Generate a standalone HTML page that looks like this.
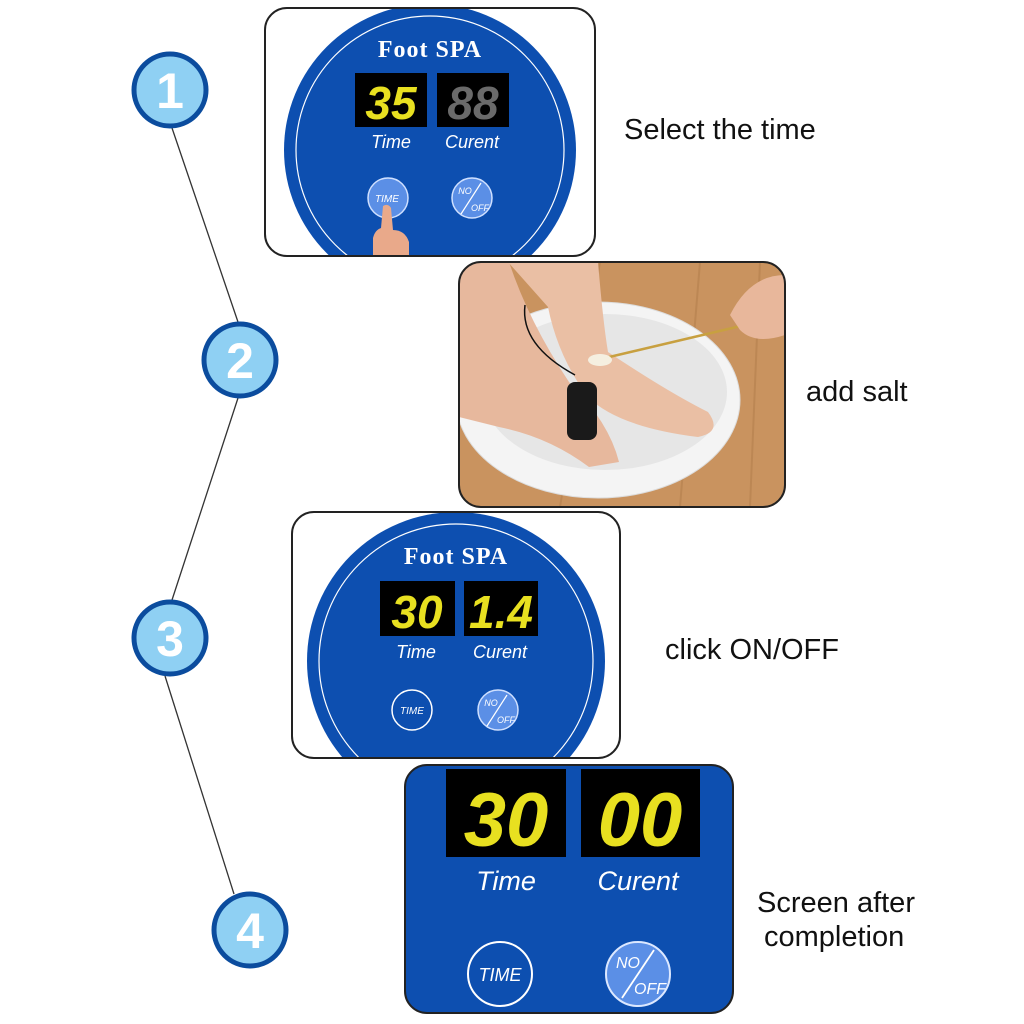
<!DOCTYPE html>
<html><head><meta charset="utf-8"><style>
html,body{margin:0;padding:0;background:#fff;}
svg{display:block;}
</style></head><body>
<svg width="1024" height="1024" viewBox="0 0 1024 1024" xmlns="http://www.w3.org/2000/svg" font-family="Liberation Sans, sans-serif">
<defs>
  <clipPath id="c1"><rect x="265" y="8" width="330" height="248" rx="22"/></clipPath>
  <clipPath id="c2"><rect x="459" y="262" width="326" height="245" rx="22"/></clipPath>
  <clipPath id="c3"><rect x="292" y="512" width="328" height="246" rx="22"/></clipPath>
  <clipPath id="c4"><rect x="405" y="765" width="328" height="248" rx="22"/></clipPath>
</defs>

<g stroke="#333" stroke-width="1.3" fill="none">
  <line x1="172" y1="128" x2="238" y2="322"/>
  <line x1="238" y1="398" x2="172" y2="600"/>
  <line x1="165" y1="676" x2="234" y2="894"/>
</g>

<g font-size="50" font-weight="bold" fill="#fff" text-anchor="middle">
  <circle cx="170" cy="90" r="36" fill="#8fd0f3" stroke="#0b4c9e" stroke-width="5"/>
  <text x="170" y="108">1</text>
  <circle cx="240" cy="360" r="36" fill="#8fd0f3" stroke="#0b4c9e" stroke-width="5"/>
  <text x="240" y="378">2</text>
  <circle cx="170" cy="638" r="36" fill="#8fd0f3" stroke="#0b4c9e" stroke-width="5"/>
  <text x="170" y="656">3</text>
  <circle cx="250" cy="930" r="36" fill="#8fd0f3" stroke="#0b4c9e" stroke-width="5"/>
  <text x="250" y="948">4</text>
</g>

<g clip-path="url(#c1)">
  <rect x="265" y="8" width="330" height="248" fill="#fff"/>
  <circle cx="430" cy="150" r="146" fill="#0d4fb0"/>
  <circle cx="430" cy="150" r="134" fill="none" stroke="#fff" stroke-width="1.2"/>
  <text x="430" y="57" font-family="Liberation Serif, serif" font-weight="bold" font-size="24" letter-spacing="1" fill="#fff" text-anchor="middle">Foot SPA</text>
  <rect x="355" y="73" width="72" height="54" fill="#000"/>
  <rect x="437" y="73" width="72" height="54" fill="#000"/>
  <text x="391" y="119" font-size="46" font-weight="bold" font-style="italic" fill="#e8e020" text-anchor="middle">35</text>
  <text x="473" y="119" font-size="46" font-weight="bold" font-style="italic" fill="#6a6a6a" text-anchor="middle">88</text>
  <text x="391" y="148" font-size="18" font-style="italic" fill="#fff" text-anchor="middle">Time</text>
  <text x="472" y="148" font-size="18" font-style="italic" fill="#fff" text-anchor="middle">Curent</text>
  <circle cx="388" cy="198" r="20" fill="#5b8fe6" stroke="#cfe0ff" stroke-width="1.5"/>
  <text x="387" y="202" font-size="10" font-style="italic" fill="#fff" text-anchor="middle">TIME</text>
  <circle cx="472" cy="198" r="20" fill="#5b8fe6" stroke="#cfe0ff" stroke-width="1.5"/>
  <line x1="461" y1="214" x2="481" y2="183" stroke="#fff" stroke-width="1.2"/>
  <text x="465" y="194" font-size="9" font-style="italic" fill="#fff" text-anchor="middle">NO</text>
  <text x="480" y="211" font-size="9" font-style="italic" fill="#fff" text-anchor="middle">OFF</text>
  <path d="M383 206 q5 -3 8 2 l2 22 q12 0 16 12 l0 16 l-36 0 l0 -20 q2 -8 8 -10 z" fill="#e9a98a"/>
</g>
<rect x="265" y="8" width="330" height="248" rx="22" fill="none" stroke="#222" stroke-width="2"/>

<g clip-path="url(#c2)">
  <rect x="459" y="262" width="326" height="245" fill="#c9935f"/>
  <g stroke="#b07c4b" stroke-width="2" opacity="0.5">
    <line x1="600" y1="262" x2="560" y2="507"/><line x1="700" y1="262" x2="680" y2="507"/><line x1="760" y1="262" x2="750" y2="507"/>
  </g>
  <ellipse cx="598" cy="400" rx="142" ry="98" fill="#f4f4f4" stroke="#ddd"/>
  <ellipse cx="605" cy="392" rx="122" ry="78" fill="#e6e6e6"/>
  <path d="M459 262 l50 0 q20 60 60 120 q40 40 50 80 l-30 5 q-40 -30 -90 -40 l-40 -10 z" fill="#e7b89d"/>
  <path d="M508 262 l90 0 q5 60 10 90 q60 40 100 60 q15 20 -10 25 q-80 -10 -110 -40 q-30 -40 -40 -90 z" fill="#eabfa4"/>
  <rect x="567" y="382" width="30" height="58" rx="8" fill="#1a1a1a"/>
  <path d="M525 305 q-5 40 50 70" stroke="#111" stroke-width="1.5" fill="none"/>
  <line x1="605" y1="358" x2="745" y2="325" stroke="#c8a040" stroke-width="2.5"/>
  <ellipse cx="600" cy="360" rx="12" ry="6" fill="#f5efe0"/>
  <path d="M730 315 q20 -40 55 -40 l0 60 q-30 10 -45 -5 z" fill="#e8b79b"/>
</g>
<rect x="459" y="262" width="326" height="245" rx="22" fill="none" stroke="#222" stroke-width="2"/>

<g clip-path="url(#c3)">
  <rect x="292" y="512" width="328" height="246" fill="#fff"/>
  <circle cx="456" cy="661" r="149" fill="#0d4fb0"/>
  <circle cx="456" cy="661" r="137" fill="none" stroke="#fff" stroke-width="1.2"/>
  <text x="456" y="564" font-family="Liberation Serif, serif" font-weight="bold" font-size="24" letter-spacing="1" fill="#fff" text-anchor="middle">Foot SPA</text>
  <rect x="380" y="581" width="75" height="55" fill="#000"/>
  <rect x="464" y="581" width="74" height="55" fill="#000"/>
  <text x="417" y="628" font-size="46" font-weight="bold" font-style="italic" fill="#e8e020" text-anchor="middle">30</text>
  <text x="501" y="628" font-size="46" font-weight="bold" font-style="italic" fill="#e8e020" text-anchor="middle">1.4</text>
  <text x="416" y="658" font-size="18" font-style="italic" fill="#fff" text-anchor="middle">Time</text>
  <text x="500" y="658" font-size="18" font-style="italic" fill="#fff" text-anchor="middle">Curent</text>
  <circle cx="412" cy="710" r="20" fill="none" stroke="#fff" stroke-width="1.5"/>
  <text x="412" y="714" font-size="10" font-style="italic" fill="#fff" text-anchor="middle">TIME</text>
  <circle cx="498" cy="710" r="20" fill="#5b8fe6" stroke="#cfe0ff" stroke-width="1.5"/>
  <line x1="487" y1="726" x2="507" y2="695" stroke="#fff" stroke-width="1.2"/>
  <text x="491" y="706" font-size="9" font-style="italic" fill="#fff" text-anchor="middle">NO</text>
  <text x="506" y="723" font-size="9" font-style="italic" fill="#fff" text-anchor="middle">OFF</text>
</g>
<rect x="292" y="512" width="328" height="246" rx="22" fill="none" stroke="#222" stroke-width="2"/>

<g clip-path="url(#c4)">
  <rect x="405" y="765" width="328" height="248" fill="#0d4fb0"/>
  <rect x="446" y="769" width="120" height="88" fill="#000"/>
  <rect x="581" y="769" width="119" height="88" fill="#000"/>
  <text x="506" y="846" font-size="76" font-weight="bold" font-style="italic" fill="#e8e020" text-anchor="middle">30</text>
  <text x="640" y="846" font-size="76" font-weight="bold" font-style="italic" fill="#e8e020" text-anchor="middle">00</text>
  <text x="506" y="890" font-size="27" font-style="italic" fill="#fff" text-anchor="middle">Time</text>
  <text x="638" y="890" font-size="27" font-style="italic" fill="#fff" text-anchor="middle">Curent</text>
  <circle cx="500" cy="974" r="32" fill="none" stroke="#fff" stroke-width="2"/>
  <text x="500" y="981" font-size="18" font-style="italic" fill="#fff" text-anchor="middle">TIME</text>
  <circle cx="638" cy="974" r="32" fill="#5b8fe6" stroke="#dce8ff" stroke-width="2"/>
  <line x1="622" y1="998" x2="654" y2="950" stroke="#fff" stroke-width="1.8"/>
  <text x="628" y="968" font-size="16" font-style="italic" fill="#fff" text-anchor="middle">NO</text>
  <text x="650" y="994" font-size="16" font-style="italic" fill="#fff" text-anchor="middle">OFF</text>
</g>
<rect x="405" y="765" width="328" height="248" rx="22" fill="none" stroke="#222" stroke-width="2"/>

<g font-size="29" fill="#111">
  <text x="624" y="139">Select the time</text>
  <text x="806" y="401">add salt</text>
  <text x="665" y="659">click ON/OFF</text>
  <text x="757" y="912">Screen after</text>
  <text x="764" y="946">completion</text>
</g>
</svg>
</body></html>
